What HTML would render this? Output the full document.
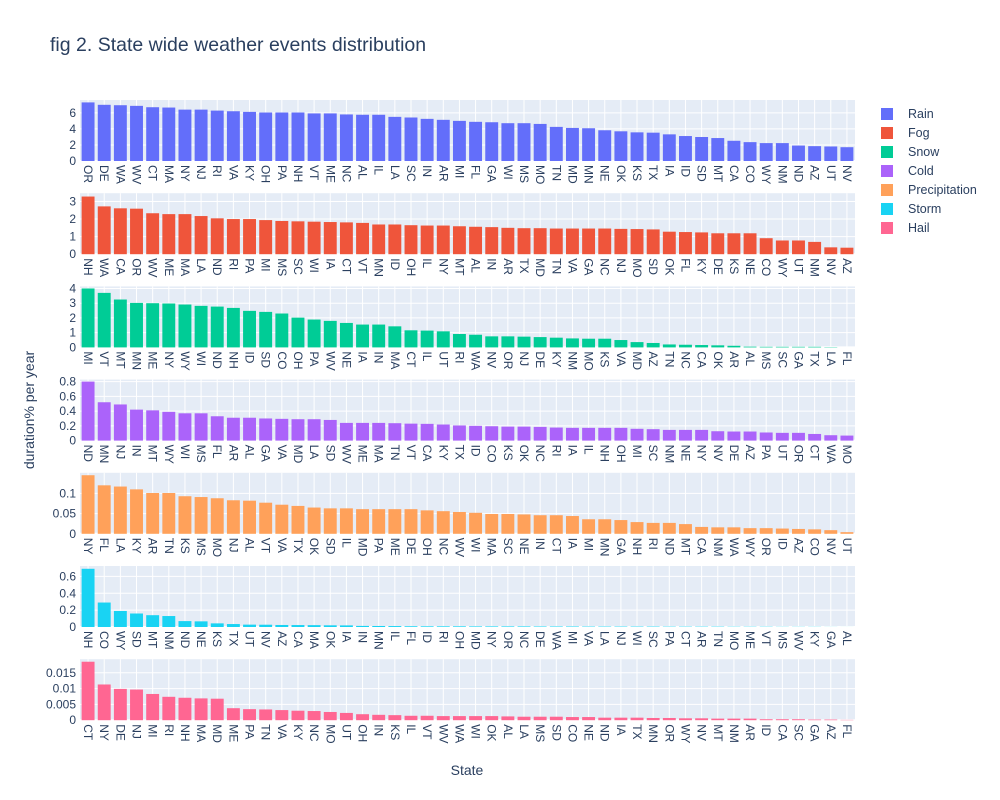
<!DOCTYPE html>
<html><head><meta charset="utf-8"><style>
body{margin:0;background:#fff;}
svg{display:block;font-family:"Liberation Sans",sans-serif;}
</style></head><body>
<svg id="chart" width="1000" height="800"></svg>
<script>
const seriesNames=["Rain","Fog","Snow","Cold","Precipitation","Storm","Hail"];
const seriesColors=["#636efa","#EF553B","#00cc96","#ab63fa","#FFA15A","#19d3f3","#FF6692"];
const rainStates=["OR","DE","WA","WV","CT","MA","NY","NJ","RI","VA","KY","OH","PA","NH","VT","ME","NC","AL","IL","LA","SC","IN","AR","MI","FL","GA","WI","MS","MO","TN","MD","MN","NE","OK","KS","TX","IA","ID","SD","MT","CA","CO","WY","NM","ND","AZ","UT","NV"];
const rainValues=[7.3,7.0,6.95,6.87,6.7,6.66,6.4,6.4,6.28,6.2,6.12,6.04,6.04,6.04,5.93,5.93,5.8,5.76,5.76,5.5,5.42,5.25,5.13,5.0,4.88,4.83,4.71,4.71,4.62,4.25,4.12,4.08,3.83,3.7,3.57,3.53,3.32,3.11,2.99,2.86,2.52,2.35,2.23,2.23,1.93,1.85,1.81,1.72];
const fogStates=["NH","WA","CA","OR","WV","ME","MA","LA","ND","RI","PA","MI","MS","SC","WI","IA","CT","VT","MN","ID","OH","IL","NY","MT","AL","IN","AR","TX","MD","TN","VA","GA","NC","NJ","MO","SD","OK","FL","KY","DE","KS","NE","CO","WY","UT","NM","NV","AZ"];
const fogValues=[3.28,2.72,2.61,2.59,2.33,2.28,2.28,2.17,2.04,2.0,2.0,1.94,1.89,1.87,1.85,1.83,1.81,1.78,1.69,1.69,1.65,1.63,1.63,1.59,1.56,1.54,1.5,1.48,1.48,1.46,1.46,1.46,1.46,1.44,1.43,1.41,1.28,1.26,1.24,1.19,1.19,1.19,0.91,0.78,0.78,0.7,0.39,0.37];
const snowStates=["MI","VT","MT","MN","ME","NY","WY","WI","ND","NH","ID","SD","CO","OH","PA","WV","NE","IA","IN","MA","CT","IL","UT","RI","WA","NV","OR","NJ","DE","KY","NM","MO","KS","VA","MD","AZ","TN","NC","CA","OK","AR","AL","MS","SC","GA","TX","LA","FL"];
const snowValues=[4.0,3.7,3.25,3.02,3.0,2.98,2.91,2.82,2.77,2.68,2.48,2.41,2.3,2.02,1.89,1.8,1.66,1.55,1.55,1.43,1.16,1.14,1.09,0.91,0.86,0.75,0.75,0.73,0.7,0.66,0.61,0.59,0.59,0.5,0.36,0.3,0.2,0.18,0.16,0.14,0.11,0.05,0.04,0.04,0.04,0.04,0.02,0.0];
const coldStates=["ND","MN","NJ","IN","MT","WY","WI","MS","FL","AR","AL","GA","VA","MD","LA","SD","WV","ME","MA","TN","VT","CA","KY","TX","ID","CO","KS","OK","NC","RI","IA","IL","NH","OH","MI","SC","NM","NE","NY","NV","DE","AZ","PA","UT","OR","CT","WA","MO"];
const coldValues=[0.8,0.52,0.49,0.42,0.41,0.39,0.37,0.37,0.33,0.31,0.31,0.3,0.295,0.29,0.29,0.28,0.24,0.24,0.24,0.236,0.23,0.227,0.218,0.205,0.2,0.195,0.19,0.19,0.186,0.177,0.173,0.173,0.173,0.173,0.16,0.155,0.145,0.145,0.145,0.127,0.123,0.123,0.11,0.105,0.105,0.09,0.073,0.068];
const precipStates=["NY","FL","LA","KY","AR","TN","KS","MS","MO","NJ","AL","VT","VA","TX","OK","SD","IL","MD","PA","ME","DE","OH","NC","WV","WI","MA","SC","NE","IN","CT","IA","MI","MN","GA","NH","RI","ND","MT","CA","NM","WA","WY","OR","ID","AZ","CO","NV","UT"];
const precipValues=[0.145,0.12,0.117,0.11,0.101,0.101,0.093,0.091,0.088,0.083,0.082,0.077,0.072,0.069,0.065,0.063,0.063,0.061,0.061,0.061,0.061,0.058,0.056,0.054,0.052,0.049,0.049,0.048,0.046,0.046,0.044,0.036,0.036,0.034,0.029,0.027,0.027,0.024,0.017,0.016,0.016,0.014,0.014,0.013,0.012,0.011,0.009,0.004];
const stormStates=["NH","CO","WY","SD","MT","NM","ND","NE","KS","TX","UT","NV","AZ","CA","MA","OK","IA","IN","MN","IL","FL","ID","RI","OH","MD","NY","OR","NC","DE","WA","MI","VA","LA","NJ","WI","SC","PA","CT","AR","TN","MO","ME","VT","MS","WV","KY","GA","AL"];
const stormValues=[0.69,0.29,0.19,0.16,0.14,0.13,0.07,0.067,0.043,0.035,0.028,0.027,0.024,0.023,0.022,0.02,0.019,0.013,0.012,0.011,0.009,0.008,0.008,0.008,0.007,0.007,0.007,0.007,0.006,0.006,0.006,0.005,0.005,0.005,0.005,0.005,0.004,0.004,0.004,0.004,0.003,0.003,0.003,0.002,0.002,0.002,0.001,0.0005];
const hailStates=["CT","NY","DE","NJ","MI","RI","NH","MA","MD","ME","PA","TN","VA","KY","NC","MO","UT","OH","IN","KS","IL","VT","WV","WA","WI","OK","AL","LA","MS","SD","CO","NE","ND","IA","TX","MN","OR","WY","NV","MT","NM","AR","ID","CA","SC","GA","AZ","FL"];
const hailValues=[0.0185,0.0113,0.0099,0.0097,0.0083,0.0074,0.0071,0.0069,0.0068,0.0038,0.0035,0.0034,0.0032,0.003,0.0029,0.0026,0.0023,0.0019,0.0017,0.0016,0.0014,0.0014,0.0013,0.0013,0.0013,0.0013,0.0012,0.0011,0.0011,0.0011,0.001,0.001,0.0008,0.0008,0.0008,0.0007,0.0007,0.0006,0.0006,0.0005,0.0005,0.0005,0.0003,0.0003,0.0003,0.0002,0.0002,0.0001];
const yMaxes=[7.6,3.47,4.14,0.827,0.151,0.723,0.0193];
const yTicks=[[0,2,4,6],[0,1,2,3],[0,1,2,3,4],[0,0.2,0.4,0.6,0.8],[0,0.05,0.1],[0,0.2,0.4,0.6],[0,0.005,0.01,0.015]];

const allStates=[rainStates,fogStates,snowStates,coldStates,precipStates,stormStates,hailStates];
const allValues=[rainValues,fogValues,snowValues,coldValues,precipValues,stormValues,hailValues];
const NS="http://www.w3.org/2000/svg";
const svg=document.getElementById("chart");
function mk(tag,attrs,parent){const e=document.createElementNS(NS,tag);for(const k in attrs)e.setAttribute(k,attrs[k]);(parent||svg).appendChild(e);return e;}
const X0=80,X1=855,PH=61,TOP0=100,STEP=93.2;
const t=mk("text",{x:50,y:51,"font-size":19.5,fill:"#2a3f5f"});


t.textContent="fig 2. State wide weather events distribution";
for(let i=0;i<7;i++){
  const states=allStates[i],vals=allValues[i];
  const top=TOP0+STEP*i,bottom=top+PH;
  const g=mk("g",{});
  
  
  mk("rect",{x:X0,y:top,width:X1-X0,height:PH,fill:"#E5ECF6"},g);
  const bw=(X1-X0)/states.length;
  const xs=k=>X0+bw*(k+0.5);
  const ys=v=>bottom-v/yMaxes[i]*PH;
  for(let k=0;k<states.length;k++){
    mk("line",{x1:xs(k),x2:xs(k),y1:top,y2:bottom,stroke:"#fff","stroke-width":1},g);
  }
  yTicks[i].forEach(tv=>{
    const y=ys(tv);
    mk("line",{x1:X0,x2:X1,y1:y,y2:y,stroke:"#fff","stroke-width":tv===0?2:1},g);
    const tl=mk("text",{x:X0-4,y:y+4,"font-size":12,fill:"#2a3f5f","text-anchor":"end"},g);
    
    
    tl.textContent=String(tv);
  });
  for(let k=0;k<states.length;k++){
    const v=vals[k];
    const r=mk("rect",{x:xs(k)-bw*0.4,y:ys(v),width:bw*0.8,height:Math.max(0,bottom-ys(v)),fill:seriesColors[i]},g);
    
    
    const lb=mk("text",{x:0,y:0,"font-size":12,fill:"#2a3f5f",transform:`translate(${xs(k)-4},${bottom+4}) rotate(90)`},g);
    
    
    lb.textContent=states[k];
  }
}
for(let i=0;i<7;i++){
  const g=mk("g",{});
  
  
  const y=114+19*i;
  mk("rect",{x:881,y:y-6,width:12,height:12,fill:seriesColors[i]},g);
  const lt=mk("text",{x:908,y:y+4,"font-size":12.5,fill:"#2a3f5f"},g);
  lt.textContent=seriesNames[i];
}
const yt=mk("text",{x:0,y:0,"font-size":14,fill:"#2a3f5f","text-anchor":"middle",transform:"translate(34,410) rotate(-90)"});


yt.textContent="duration% per year";
const xt=mk("text",{x:467,y:775,"font-size":14,fill:"#2a3f5f","text-anchor":"middle"});


xt.textContent="State";
</script>
</body></html>
